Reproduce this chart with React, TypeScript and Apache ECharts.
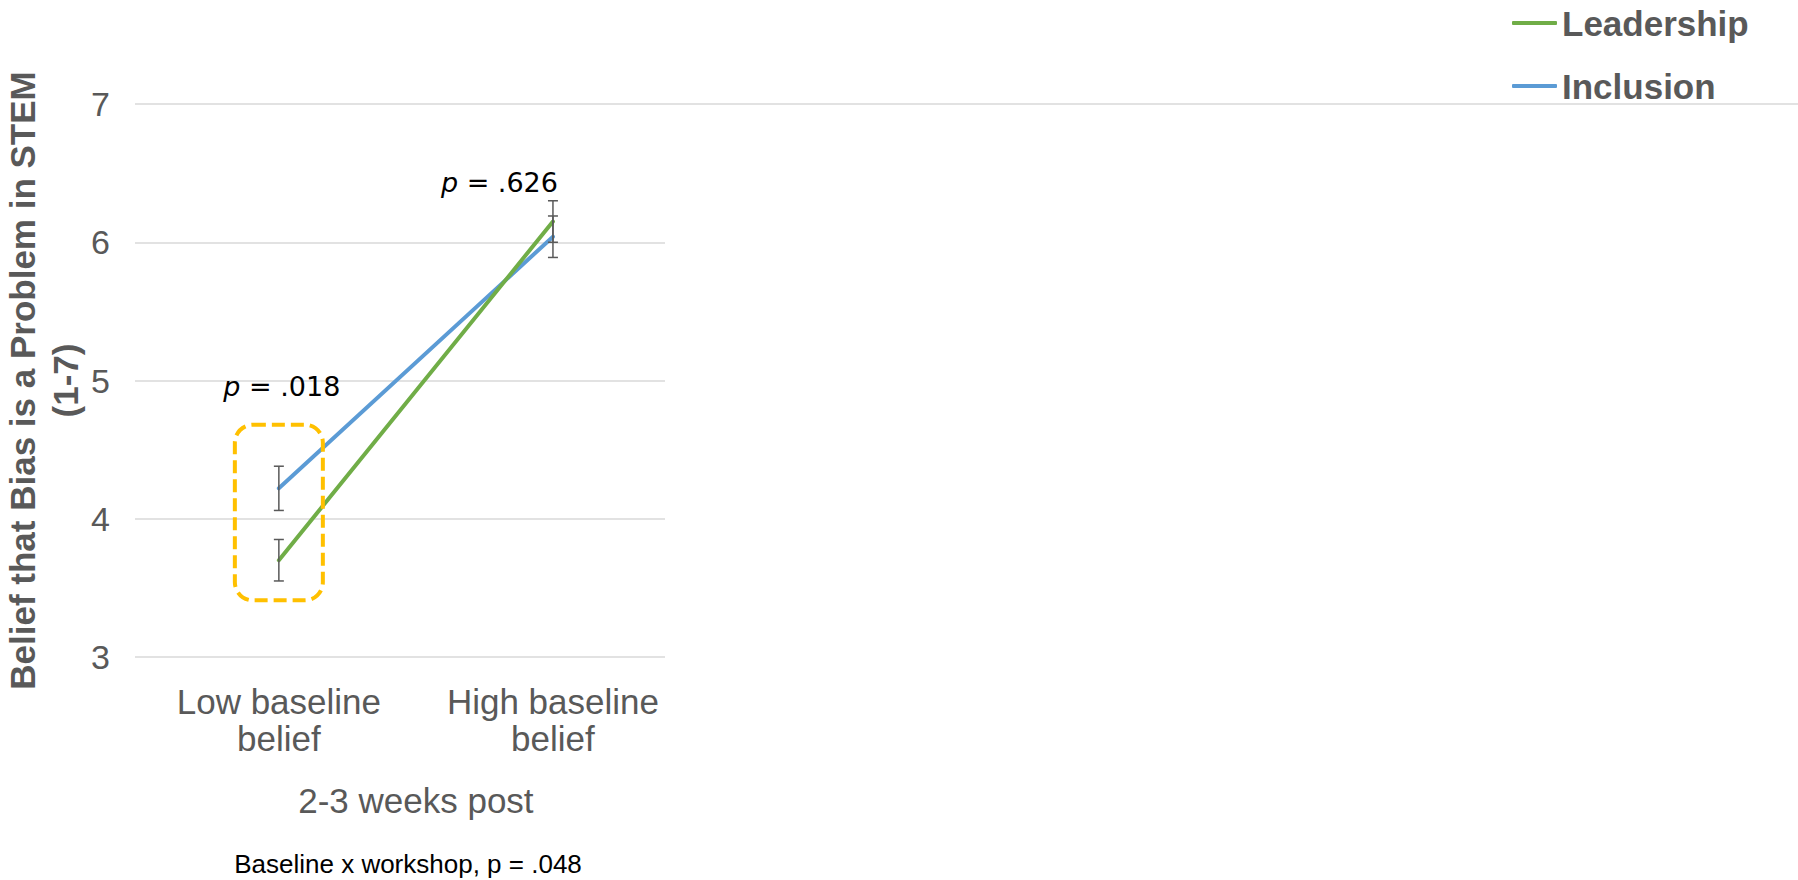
import React, { useEffect, useRef } from "react";
import * as echarts from "echarts";

// Group means (1-7 scale) with their standard errors
const categories = ["Low baseline\nbelief", "High baseline\nbelief"];
const seriesNames = ["Leadership", "Inclusion"];
const leadershipMeans = [3.7, 6.15];
const leadershipErrors = [0.15, 0.15];
const inclusionMeans = [4.22, 6.04];
const inclusionErrors = [0.16, 0.15];
const pValues = [".018", ".626"];
const yAxisMin = 3;
const yAxisMax = 7;

const GREY = "#595959";
const GRID_GREY = "#D9D9D9";
const GREEN = "#70AD47";
const BLUE = "#5B9BD5";
const FONT = "'Liberation Sans', Arial, sans-serif";

function errorBars(name: string, means: number[], errors: number[]) {
  return {
    type: "custom",
    name,
    xAxisIndex: 0,
    yAxisIndex: 0,
    z: 5,
    silent: true,
    data: means.map((m, i) => [i, m - errors[i], m + errors[i]]),
    renderItem: (_params: any, api: any) => {
      const lo = api.coord([api.value(0), api.value(1)]);
      const hi = api.coord([api.value(0), api.value(2)]);
      const cap = 5;
      const style = { stroke: GREY, lineWidth: 1.5 };
      return {
        type: "group",
        children: [
          { type: "line", shape: { x1: lo[0], y1: lo[1], x2: hi[0], y2: hi[1] }, style },
          { type: "line", shape: { x1: lo[0] - cap, y1: lo[1], x2: lo[0] + cap, y2: lo[1] }, style },
          { type: "line", shape: { x1: hi[0] - cap, y1: hi[1], x2: hi[0] + cap, y2: hi[1] }, style },
        ],
      };
    },
  };
}

export default function App() {
  const ref = useRef<HTMLDivElement>(null);

  useEffect(() => {
    const chart = echarts.init(ref.current!, null, { renderer: "svg" });
    const width = chart.getWidth();

    chart.setOption({
      animation: false,
      backgroundColor: "#ffffff",
      legend: {
        data: seriesNames,
        orient: "vertical",
        left: 1512,
        top: 3,
        padding: 0,
        itemWidth: 45,
        itemHeight: 4,
        itemGap: 23,
        icon: "roundRect",
        selectedMode: false,
        textStyle: {
          fontSize: 35,
          fontWeight: "bold",
          color: GREY,
          fontFamily: FONT,
          lineHeight: 40,
        },
      },
      grid: [
        { left: 135, right: width - 690, top: 104, bottom: 223 },
        { left: 135, right: width - 665, top: 104, bottom: 223 },
      ],
      xAxis: [
        {
          type: "category",
          gridIndex: 0,
          data: categories,
          boundaryGap: true,
          axisLine: { show: false },
          axisTick: { show: false },
          splitLine: { show: false },
          axisLabel: {
            interval: 0,
            fontSize: 35,
            color: GREY,
            fontFamily: FONT,
            lineHeight: 37,
            margin: 26,
          },
          name: "2-3 weeks post",
          nameLocation: "middle",
          nameGap: 123,
          nameTextStyle: { fontSize: 35, color: GREY, fontFamily: FONT, lineHeight: 40 },
        },
        { type: "value", gridIndex: 1, min: 0, max: 1, show: false },
      ],
      yAxis: [
        {
          type: "value",
          gridIndex: 0,
          min: yAxisMin,
          max: yAxisMax,
          interval: 1,
          axisLine: { show: false },
          axisTick: { show: false },
          splitLine: { show: false },
          axisLabel: { fontSize: 34, color: GREY, fontFamily: FONT, margin: 32 },
          name: "Belief that Bias is a Problem in STEM\n(1-7)",
          nameLocation: "middle",
          nameRotate: 90,
          nameGap: 42,
          nameTextStyle: {
            fontSize: 35,
            fontWeight: "bold",
            color: GREY,
            fontFamily: FONT,
            lineHeight: 43,
          },
        },
        {
          type: "value",
          gridIndex: 1,
          min: yAxisMin,
          max: yAxisMax,
          interval: 1,
          axisLine: { show: false },
          axisTick: { show: false },
          axisLabel: { show: false },
          splitLine: { show: true, lineStyle: { color: GRID_GREY, width: 1.5 } },
        },
      ],
      series: [
        {
          type: "line",
          name: "Inclusion",
          data: inclusionMeans,
          color: BLUE,
          symbol: "none",
          lineStyle: { width: 4, color: BLUE, cap: "round" },
          z: 3,
        },
        {
          type: "line",
          name: "Leadership",
          data: leadershipMeans,
          color: GREEN,
          symbol: "none",
          lineStyle: { width: 4, color: GREEN, cap: "round" },
          z: 4,
        },
        errorBars("Leadership SE", leadershipMeans, leadershipErrors),
        errorBars("Inclusion SE", inclusionMeans, inclusionErrors),
      ],
    });

    // Annotations placed through the chart's own scales
    const px = (i: number) => chart.convertToPixel({ xAxisIndex: 0 }, i) as number;
    const py = (v: number) => chart.convertToPixel({ yAxisIndex: 0 }, v) as number;
    const pRich = { i: { fontStyle: "italic", fontFamily: "'DejaVu Sans', sans-serif", fontSize: 27, fill: "#000" } };

    chart.setOption({
      graphic: [
        {
          type: "line",
          silent: true,
          shape: { x1: 665, y1: py(yAxisMax), x2: width, y2: py(yAxisMax) },
          style: { stroke: GRID_GREY, lineWidth: 1.5 },
        },
        {
          type: "rect",
          silent: true,
          z: 10,
          shape: {
            x: px(0) - 44,
            y: py(4.68),
            width: 88,
            height: py(3.41) - py(4.68),
            r: 18,
          },
          style: { fill: "none", stroke: "#FFC000", lineWidth: 4, lineDash: [13, 6] },
        },
        {
          type: "text",
          silent: true,
          x: px(0) + 3,
          y: py(4.96),
          style: {
            text: "{i|p} = " + pValues[0],
            rich: pRich,
            align: "center",
            verticalAlign: "middle",
            fontFamily: "'DejaVu Sans', sans-serif",
            fontSize: 27,
            fill: "#000",
          },
        },
        {
          type: "text",
          silent: true,
          x: px(1) + 5,
          y: py(6.43),
          style: {
            text: "{i|p} = " + pValues[1],
            rich: pRich,
            align: "right",
            verticalAlign: "middle",
            fontFamily: "'DejaVu Sans', sans-serif",
            fontSize: 27,
            fill: "#000",
          },
        },
        {
          type: "text",
          silent: true,
          x: 408,
          y: 864,
          style: {
            text: "Baseline x workshop, p = .048",
            align: "center",
            verticalAlign: "middle",
            fontFamily: FONT,
            fontSize: 26,
            fill: "#000",
          },
        },
      ],
    });

    return () => chart.dispose();
  }, []);

  return (
    <div
      ref={ref}
      style={{ position: "fixed", left: 0, top: 0, width: "1798px", height: "880px", background: "#fff" }}
    />
  );
}
